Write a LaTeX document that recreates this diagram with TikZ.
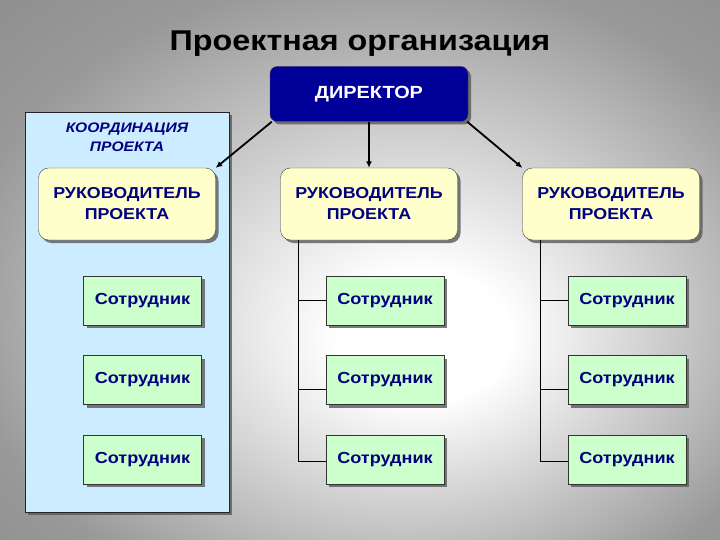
\documentclass[tikz,border=0pt]{standalone}
\usepackage{fontspec}
\setmainfont{Liberation Sans}[FakeStretch=1.13]
\usetikzlibrary{shadows,arrows.meta,calc}
\definecolor{navy}{RGB}{0,0,128}
\definecolor{dirfill}{RGB}{0,0,153}
\definecolor{mgrfill}{RGB}{255,255,204}
\definecolor{empfill}{RGB}{204,255,204}
\definecolor{panelfill}{RGB}{204,236,255}
\pgfdeclareradialshading{bgshade}{\pgfpoint{5bp}{-7bp}}{%
  color(0bp)=(white); color(6bp)=(white); color(30bp)=(black!40); color(50bp)=(black!50)}
\tikzset{
  shad/.style={drop shadow={shadow xshift=3pt,shadow yshift=-3pt,fill=black!65,opacity=0.8}},
  dirbox/.style={shad,draw=black!70,fill=dirfill,rounded corners=7pt,minimum width=198pt,minimum height=55pt,
    text=white,font=\fontsize{17.6}{20}\selectfont\bfseries,inner sep=0pt},
  mgrbox/.style={shad,draw=black!75,fill=mgrfill,rounded corners=10pt,minimum width=177pt,minimum height=72pt,
    text=navy,font=\fontsize{15.8}{21}\selectfont\bfseries,align=center,inner sep=0pt},
  empbox/.style={shad,draw=black!80,fill=empfill,minimum width=118pt,minimum height=49pt,
    text=navy,font=\fontsize{16}{18}\selectfont\bfseries,inner sep=0pt},
  conn/.style={draw=black,line width=0.9pt},
  arr/.style={draw=black,line width=1.8pt,-{Latex[length=6.5pt,width=6pt]}}
}
\begin{document}
\begin{tikzpicture}[x=1pt,y=-1pt]
\useasboundingbox (0,0) rectangle (720,540);
\shade[shading=bgshade] (0,0) rectangle (720,540);
% title
\node[font=\fontsize{28.6}{34}\selectfont\bfseries,text=black] (title) at (360,44) {Проектная организация};
% panel
\node[shad,draw=black!85,fill=panelfill,minimum width=204pt,minimum height=400pt,inner sep=0pt] (panel) at (127,312) {};
\node[text=navy,font=\fontsize{13.8}{19}\selectfont\bfseries\itshape,align=center] (coord) at (127,137) {КООРДИНАЦИЯ\\ПРОЕКТА};
% director
\node[dirbox] (dir) at (369,94) {ДИРЕКТОР};
% managers
\node[mgrbox] (m1) at (127,204) {РУКОВОДИТЕЛЬ\\ПРОЕКТА};
\node[mgrbox] (m2) at (369,204) {РУКОВОДИТЕЛЬ\\ПРОЕКТА};
\node[mgrbox] (m3) at (611,204) {РУКОВОДИТЕЛЬ\\ПРОЕКТА};
% employees
\foreach \c/\x in {1/142.5,2/385,3/627}{
  \node[empbox] (e\c1) at (\x,300.5) {Сотрудник};
  \node[empbox] (e\c2) at (\x,380) {Сотрудник};
  \node[empbox] (e\c3) at (\x,459.5) {Сотрудник};
}
% arrows
\draw[arr] (dir.south west) ++(2pt,0) coordinate (a1) -- (m1.north east);
\draw[arr] (dir.south) -- (m2.north);
\draw[arr] (dir.south east) ++(-1pt,0) coordinate (a3) -- (m3.north west);
% trees
\foreach \c in {2,3}{
  \coordinate (t\c) at ($(m\c.south west)+(18,0)$);
  \draw[conn] (t\c) |- ([yshift=-2pt]e\c3.west);
  \draw[conn] (e\c1.west) -- (e\c1.west -| t\c);
  \draw[conn] ([yshift=-9pt]e\c2.west) -- ([yshift=-9pt]e\c2.west -| t\c);
}
\end{tikzpicture}
\end{document}
